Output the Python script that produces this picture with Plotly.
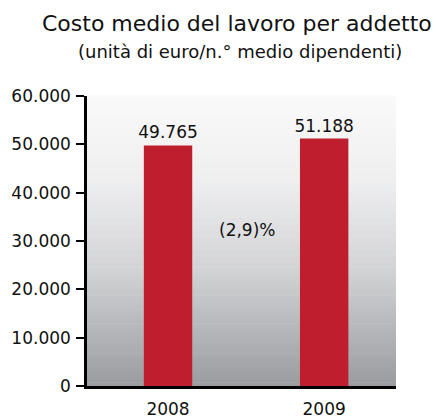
import plotly.graph_objects as go

years = ["2008", "2009"]
costs = [49765, 51188]
change_label = "(2,9)%"
y_ticks = [0, 10000, 20000, 30000, 40000, 50000, 60000]

bar_red = "#be1e2d"
font = "DejaVu Sans"
ink = "#111111"

fig = go.Figure()
fig.add_trace(go.Bar(
    x=[0, 1], y=costs, width=0.31,
    marker=dict(color=bar_red, line=dict(width=0)),
    texttemplate="%{y:,d}", textposition="outside", constraintext="none",
    textfont=dict(size=17, color=ink, family=font),
    cliponaxis=False,
))

# vertical gradient background (white -> grey) built from thin bands
stops = [(0.0, (250, 250, 250)), (0.3, (238, 238, 239)), (0.6, (210, 211, 213)), (1.0, (154, 156, 160))]
def grad(t):
    for (t0, c0), (t1, c1) in zip(stops, stops[1:]):
        if t <= t1:
            f = (t - t0) / (t1 - t0)
            return "rgb(%d,%d,%d)" % tuple(round(a + (b - a) * f) for a, b in zip(c0, c1))
    return "rgb(%d,%d,%d)" % stops[-1][1]

n = 90
shapes = []
for i in range(n):
    t = (i + 0.5) / n
    shapes.append(dict(type="rect", xref="x domain", yref="y domain", layer="below",
                       x0=0, x1=1, y0=1 - (i + 1) / n, y1=1 - i / n + 0.002,
                       fillcolor=grad(t), line=dict(width=0)))

top, bottom = 96, 32
plot_h = 418 - top - bottom

def paper_y(px):
    # pixel row from top of the page -> paper coordinate
    return 1 + (top - px) / plot_h

fig.update_layout(
    width=445, height=418,
    margin=dict(l=87, r=49, t=top, b=bottom),
    paper_bgcolor="white", plot_bgcolor="rgba(0,0,0,0)",
    separators=",.",
    showlegend=False,
    shapes=shapes,
    font=dict(family=font, color=ink),
    annotations=[
        dict(text="Costo medio del lavoro per addetto", x=0.485, y=paper_y(23),
             xref="paper", yref="paper", yanchor="middle", showarrow=False,
             font=dict(size=22, family=font, color=ink)),
        dict(text="(unità di euro/n.° medio dipendenti)", x=0.494, y=paper_y(52),
             xref="paper", yref="paper", yanchor="middle", showarrow=False,
             font=dict(size=18, family=font, color=ink)),
        dict(text=change_label, x=0.505, y=32300, xref="x", yref="y",
             showarrow=False, font=dict(size=17, family=font, color=ink)),
    ],
)

fig.update_xaxes(
    range=[-0.519, 1.46], tickvals=[0, 1], ticktext=years,
    showline=True, linecolor="black", linewidth=2.5,
    ticks="", ticklabelstandoff=6, showgrid=False, zeroline=False,
    automargin=False,
    tickfont=dict(size=17, color=ink, family=font),
)
fig.update_yaxes(
    range=[0, 60000], tickvals=y_ticks, tickformat=",d",
    showline=True, linecolor="black", linewidth=2.5,
    ticks="outside", ticklen=8, tickwidth=2, tickcolor="black",
    ticklabelstandoff=2, showgrid=False, zeroline=False,
    automargin=False,
    tickfont=dict(size=17, color=ink, family=font),
)

fig.write_html("out.html", config={"displayModeBar": False},
               post_script="document.body.style.margin='0';")
